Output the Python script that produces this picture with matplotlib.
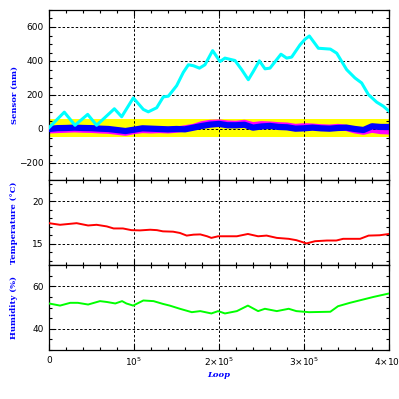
import numpy as np
import matplotlib
matplotlib.use("Agg")
import matplotlib.pyplot as plt
from matplotlib.ticker import MultipleLocator

# sensor reference trace (cyan), loop count in thousands
cyan_x = [0, 18, 30.6, 45.5, 56, 76.9, 85.5, 99.2, 111, 116.8, 126.7, 134.5, 140.4,
          150.2, 158, 164, 170, 177, 183.5, 192.5, 201.2, 207, 218.8, 226.7, 234.5,
          240.4, 247.5, 254.1, 260, 272.9, 279.6, 285.5, 295.3, 301.2, 306.3, 316.9,
          331, 338.5, 350.2, 360, 367.8, 375.7, 385.5, 393.3, 400]
cyan_y = [8, 99, 22, 86, 22, 119, 72, 183, 115, 101, 125, 189, 193,
          255, 333, 378, 372, 358, 378, 461, 397, 417, 403, 349, 290,
          339, 401, 354, 358, 440, 417, 423, 495, 528, 547, 475,
          470, 446, 349, 300, 271, 203, 158, 134, 105]

# sensor traces near zero, every 10k loops
band_x = list(range(0, 401, 10))
blue_y = [0, 5, 6, 8, 6, 5, 2, 0, -6, -12, -4, 4, 2, 0, -2, 0, -2, 8, 18, 26, 30,
          22, 22, 25, 8, 15, 18, 12, 10, 2, 4, 8, 4, 2, 6, 8, 0, -6, 16, 12, 12]
magenta_y = [-8, -6, -4, -2, -4, -5, -8, -10, -16, -22, -12, -6, -8, -6, -8, -4, 4, 12, 28, 36, 38,
             32, 30, 36, 22, 28, 26, 22, 20, 12, 16, 14, 10, 8, 12, 6, -8, -16, -4, -12, -14]
tol_low, tol_high = -47, 57

temp_x = [0, 13, 32.5, 46, 56, 68, 76, 87, 97, 107, 119, 127, 134, 146, 154, 162, 170, 178,
          186, 191, 199, 209, 221, 234, 246, 256, 268, 282, 291, 303, 313, 327, 338, 346,
          366, 376, 389, 400]
temp_y = [17.42, 17.23, 17.42, 17.15, 17.23, 17.04, 16.8, 16.8, 16.6, 16.57, 16.65, 16.6,
          16.46, 16.42, 16.27, 15.96, 16.07, 16.1, 15.88, 15.69, 15.88, 15.88, 15.88, 16.15,
          15.88, 15.96, 15.69, 15.58, 15.42, 15.04, 15.3, 15.38, 15.38, 15.58, 15.58, 15.96,
          16.0, 16.15]

hum_x = [0, 13, 25, 34, 46, 60, 68, 78, 86, 91, 99, 111, 123, 134, 142, 154, 168, 178, 191,
         199, 207, 221, 234, 246, 254, 268, 282, 291, 306, 331, 340, 354, 366, 382, 400]
hum_y = [51.9, 50.9, 52.2, 52.2, 51.4, 53.0, 52.6, 51.9, 53.0, 51.9, 50.9, 53.3, 53.0, 51.7,
         50.9, 49.4, 47.8, 48.3, 47.2, 48.3, 47.2, 48.3, 50.9, 48.3, 49.4, 48.3, 49.4, 48.3,
         47.8, 48.0, 50.6, 52.2, 53.4, 55.0, 56.6]

xticks = [0, 1e5, 2e5, 3e5, 4e5]
xticklabels = ["0", "10$^5$", "2\u00d710$^5$", "3\u00d710$^5$", "4\u00d710$^5$"]

k = 1000.0
W, H = 399, 399
fig = plt.figure(figsize=(W / 100, H / 100), dpi=100)
L, R = 49 / W, 389 / W
ax1 = fig.add_axes([L, 1 - 180 / H, R - L, 170 / H])
ax2 = fig.add_axes([L, 1 - 265 / H, R - L, 85 / H])
ax3 = fig.add_axes([L, 1 - 350 / H, R - L, 85 / H])

ax1.axhspan(tol_low, tol_high, color="#ffff00", lw=0, zorder=1)
ax1.plot(np.array(band_x) * k, magenta_y, color="#ff00ff", lw=4.5, zorder=2)
ax1.plot(np.array(band_x) * k, blue_y, color="#0000ff", lw=4.5, zorder=3)
ax1.plot(np.array(cyan_x) * k, cyan_y, color="#00ffff", lw=2.2, zorder=4)
ax1.set_ylim(-300, 700)
ax1.yaxis.set_major_locator(MultipleLocator(200))
ax1.yaxis.set_minor_locator(MultipleLocator(50))
ax1.set_ylabel("Sensor (nm)")

ax2.plot(np.array(temp_x) * k, temp_y, color="#ff0000", lw=1.4, zorder=3)
ax2.set_ylim(12.5, 22.5)
ax2.yaxis.set_major_locator(MultipleLocator(5))
ax2.yaxis.set_minor_locator(MultipleLocator(1))
ax2.set_ylabel("Temperature (\u00b0C)")

ax3.plot(np.array(hum_x) * k, hum_y, color="#00ff00", lw=1.4, zorder=3)
ax3.set_ylim(30, 70)
ax3.yaxis.set_major_locator(MultipleLocator(20))
ax3.yaxis.set_minor_locator(MultipleLocator(5))
ax3.set_ylabel("Humidity (%)")
ax3.set_xlabel("Loop", fontstyle="italic", labelpad=2)

for ax in (ax1, ax2, ax3):
    ax.set_xlim(0, 4e5)
    ax.set_xticks(xticks)
    ax.xaxis.set_minor_locator(MultipleLocator(2e4))
    ax.tick_params(which="both", direction="in", top=True, right=True,
                   labelsize=6.5, width=0.8, pad=4)
    ax.tick_params(which="major", length=4.5)
    ax.tick_params(which="minor", length=2)
    ax.grid(True, which="major", color="black", lw=0.7, linestyle=(0, (2.5, 2)))
    ax.set_axisbelow(False)
    for s in ax.spines.values():
        s.set_linewidth(0.9)
    ax.yaxis.label.set_color("#0000ff")
    ax.yaxis.label.set_fontsize(6)
    ax.yaxis.label.set_family("DejaVu Serif")
    ax.yaxis.label.set_fontweight("bold")
    ax.yaxis.set_label_coords(-0.09, 0.5)
    if ax is not ax3:
        ax.tick_params(labelbottom=False)

ax3.set_xticklabels(xticklabels)
ax3.xaxis.label.set_color("#0000ff")
ax3.xaxis.label.set_fontsize(6)
ax3.xaxis.label.set_family("DejaVu Serif")
ax3.xaxis.label.set_fontweight("bold")

fig.savefig("out.png", dpi=100)
